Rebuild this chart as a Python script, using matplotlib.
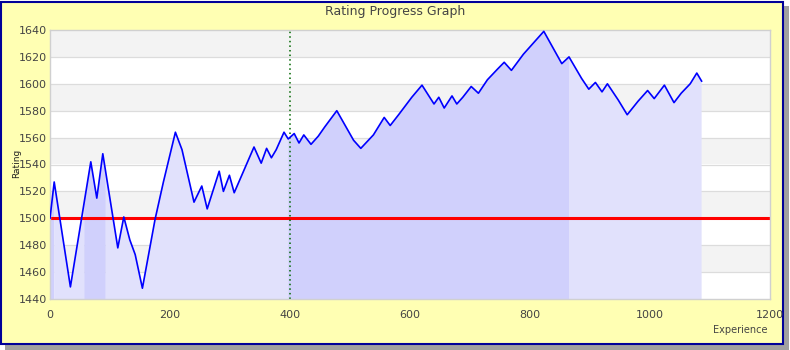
import matplotlib
matplotlib.use("Agg")
import matplotlib.pyplot as plt
import numpy as np
from matplotlib.patches import Rectangle

# rating history
experience = [0, 7, 34, 68, 78, 88, 113, 123, 133, 142, 154, 175, 189, 209, 220,
              240, 253, 262, 282, 289, 299, 307, 340, 352, 361, 369, 377, 390, 397,
              407, 415, 423, 435, 447, 458, 468, 478, 506, 518, 539, 557, 567, 581,
              603, 620, 640, 648, 657, 670, 678, 688, 702, 714, 729, 746, 757, 769,
              789, 805, 823, 853, 865, 886, 898, 909, 920, 929, 947, 962, 980, 996,
              1007, 1024, 1040, 1052, 1067, 1078, 1086]
rating = [1500, 1527, 1449, 1542, 1515, 1548, 1478, 1501, 1484, 1473, 1448, 1499, 1527,
          1564, 1551, 1512, 1524, 1507, 1535, 1520, 1532, 1519, 1553, 1541, 1552, 1545,
          1551, 1564, 1559, 1563, 1556, 1562, 1555, 1561, 1568, 1574, 1580, 1558, 1552,
          1562, 1575, 1569, 1577, 1590, 1599, 1585, 1590, 1582, 1591, 1585, 1590, 1598,
          1593, 1603, 1611, 1616, 1610, 1622, 1630, 1639, 1615, 1620, 1604, 1596, 1601,
          1594, 1600, 1588, 1577, 1587, 1595, 1589, 1599, 1586, 1593, 1600, 1608, 1602]

# shaded periods under the curve (alternating darker / lighter)
period_edges = [0, 7, 57, 93, 397, 865, 1086]
period_dark = [True, False, True, False, True, False]

base_rating = 1500
marker_exp = 400
y_ticks = list(range(1440, 1641, 20))
x_ticks = list(range(0, 1201, 200))

plt.rcParams["font.family"] = "DejaVu Sans"
txt = "#444444"

fig = plt.figure(figsize=(7.9, 3.5), dpi=100)
fig.patch.set_facecolor("white")
# drop shadow + yellow frame
fig.patches.append(Rectangle((5 / 790, 0), 784 / 790, 344 / 350, transform=fig.transFigure,
                             facecolor="#a0a0a0", edgecolor="none", zorder=-3))
fig.patches.append(Rectangle((1 / 790, 6 / 350), 782 / 790, 342 / 350, transform=fig.transFigure,
                             facecolor="#ffffb3", edgecolor="#000099", linewidth=1.5, zorder=-2))

ax = fig.add_axes([50 / 790, 1 - 299 / 350, 720 / 790, 269 / 350])
ax.set_xlim(0, 1200)
ax.set_ylim(1440, 1640)

# alternating bands
for i, lo in enumerate(y_ticks[:-1]):
    ax.axhspan(lo, lo + 20, color="white" if i % 2 == 0 else "#f3f3f3", zorder=0, lw=0)
for yt in y_ticks[1:-1]:
    ax.axhline(yt, color="#dcdcdc", lw=0.9, zorder=0.5)

x = np.array(experience, dtype=float)
y = np.array(rating, dtype=float)
for (a, b), dark in zip(zip(period_edges[:-1], period_edges[1:]), period_dark):
    xs = np.concatenate(([a], x[(x > a) & (x < b)], [b]))
    ys = np.interp(xs, x, y)
    ax.fill_between(xs, 1440, ys, facecolor="#d0d0fc" if dark else "#e1e1fc",
                    lw=0, zorder=1)

ax.axhline(base_rating, color="#ff0000", lw=2.2, zorder=2)
ax.axvline(marker_exp, color="#006600", lw=1.1, ls=(0, (1, 2)), zorder=2)
ax.plot(x, y, color="#0000ff", lw=1.2, zorder=3)

ax.set_xticks(x_ticks)
ax.set_yticks(y_ticks)
ax.tick_params(length=0, labelsize=8, labelcolor=txt)
ax.tick_params(axis="x", pad=8)
ax.tick_params(axis="y", pad=2)
for s in ax.spines.values():
    s.set_color("#d0d0d0")
    s.set_linewidth(1)

fig.text(395 / 790, 1 - 11 / 350, "Rating Progress Graph", ha="center", va="center",
         fontsize=9, color=txt)
fig.text(17 / 790, 1 - 163 / 350, "Rating", ha="center", va="center", rotation=90,
         fontsize=6.5, color="#222222")
fig.text(768 / 790, 1 - 330 / 350, "Experience", ha="right", va="center",
         fontsize=7, color=txt)

fig.savefig("out.png", dpi=100)
